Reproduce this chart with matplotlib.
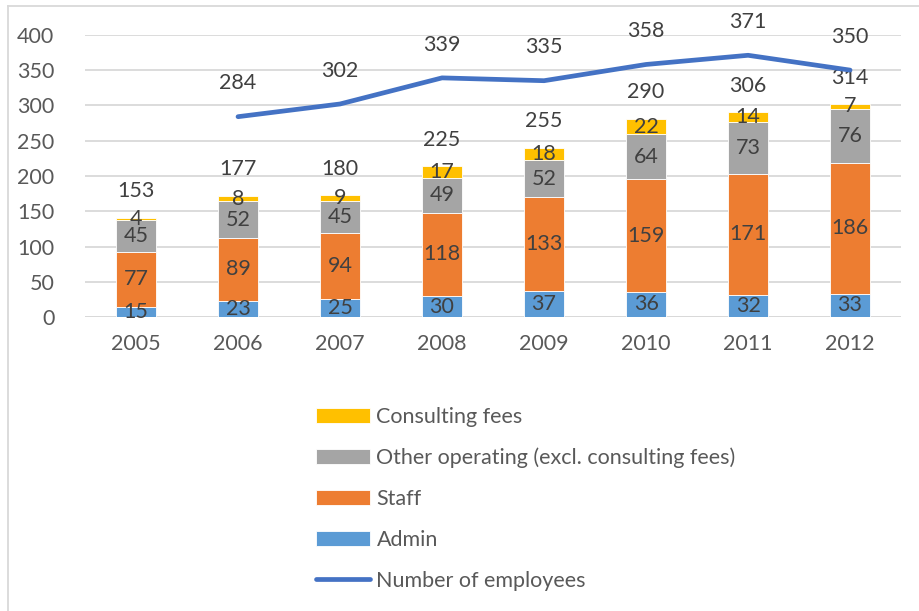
import numpy as np
import matplotlib.pyplot as plt
from matplotlib.lines import Line2D

plt.rcParams['font.family'] = ['Lato', 'DejaVu Sans']

years = ['2005', '2006', '2007', '2008', '2009', '2010', '2011', '2012']
admin = [15, 23, 25, 30, 37, 36, 32, 33]
staff = [77, 89, 94, 118, 133, 159, 171, 186]
other = [45, 52, 45, 49, 52, 64, 73, 76]
consulting = [4, 8, 9, 17, 18, 22, 14, 7]
totals = [153, 177, 180, 225, 255, 290, 306, 314]
employees = [np.nan, 284, 302, 339, 335, 358, 371, 350]

# Colours
c_admin = '#5B9BD5'
c_staff = '#ED7D31'
c_other = '#A5A5A5'
c_cons = '#FFC000'
c_line = '#4472C4'
c_text = '#404040'
c_tick = '#595959'
fs = 15.5

fig = plt.figure(figsize=(9.19, 6.11), dpi=100)
ax = fig.add_axes([0.0925, 0.481, 0.888, 0.462])

x = np.arange(len(years))
w = 0.4
series = [(admin, c_admin, 'Admin'), (staff, c_staff, 'Staff'),
          (other, c_other, 'Other operating (excl. consulting fees)'),
          (consulting, c_cons, 'Consulting fees')]
bottom = np.zeros(len(years))
handles = {}
for vals, col, name in series:
    vals = np.array(vals, dtype=float)
    bars = ax.bar(x, vals, w, bottom=bottom, color=col, edgecolor='white',
                  linewidth=0.6, label=name, zorder=2)
    handles[name] = bars
    for xi, b, v in zip(x, bottom, vals):
        ax.text(xi, b + v / 2, f'{int(v)}', ha='center', va='center',
                fontsize=fs, color=c_text, zorder=4)
    bottom += vals

# Total labels above stacks
for xi, top, t in zip(x, bottom, totals):
    ax.annotate(f'{t}', (xi, top), xytext=(0, 19), textcoords='offset points',
                ha='center', va='center', fontsize=fs, color=c_text)

line, = ax.plot(x, employees, color=c_line, linewidth=3.4,
                solid_capstyle='round', zorder=3, label='Number of employees')
for xi, e in zip(x, employees):
    if not np.isnan(e):
        ax.annotate(f'{int(e)}', (xi, e), xytext=(0, 24), textcoords='offset points',
                    ha='center', va='center', fontsize=fs, color=c_text)

ax.set_xlim(-0.5, len(years) - 0.5)
ax.set_ylim(0, 400)
ax.set_yticks(range(0, 401, 50))
ax.set_xticks(x)
ax.set_xticklabels(years)
ax.tick_params(length=0, labelsize=fs, colors=c_tick, pad=12)
ax.tick_params(axis='y', pad=22)
ax.grid(axis='y', color='#D9D9D9', linewidth=1.3, zorder=0)
ax.set_axisbelow(True)
for s in ax.spines.values():
    s.set_visible(False)
ax.axhline(0, color='#D9D9D9', linewidth=1.3, zorder=1)

order = ['Consulting fees', 'Other operating (excl. consulting fees)', 'Staff', 'Admin']
leg = fig.legend([handles[n] for n in order] + [line], order + ['Number of employees'],
                 loc='upper left', bbox_to_anchor=(0.323, 0.366), frameon=False,
                 fontsize=fs, labelspacing=0.97, handlelength=2.5,
                 handletextpad=0.3, labelcolor=c_tick)

# Outer chart border (left and top)
fig.add_artist(Line2D([0.009, 0.009], [0, 0.99], transform=fig.transFigure,
                      color='#D9D9D9', linewidth=1.3))
fig.add_artist(Line2D([0.009, 1.0], [0.99, 0.99], transform=fig.transFigure,
                      color='#D9D9D9', linewidth=1.3))

fig.savefig('out.png', dpi=100)
